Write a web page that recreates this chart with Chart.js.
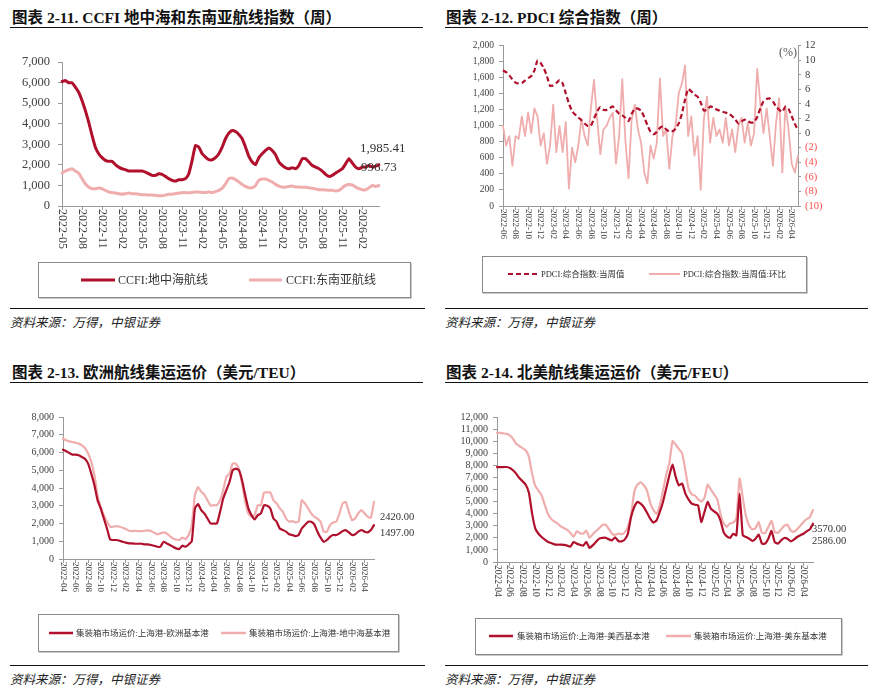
<!DOCTYPE html>
<html>
<head>
<meta charset="utf-8">
<script src="https://cdn.jsdelivr.net/npm/chart.js@4.4.0/dist/chart.umd.min.js"></script>
<style>
  body { margin: 0; background: #fff; }
  #page { position: relative; width: 870px; height: 689px; overflow: hidden; background: #fff; }
  .title { position: absolute; font-family: "Liberation Serif", "Noto Sans CJK SC", serif; font-weight: bold; font-size: 15.5px; color: #111; white-space: nowrap; }
  .rule { position: absolute; height: 0; border-top: 1.5px solid #111; }
  .src { position: absolute; font-family: "Noto Sans CJK SC", sans-serif; font-style: italic; font-size: 12.5px; color: #222; white-space: nowrap; }
  canvas { position: absolute; }
</style>
</head>
<body>
<div id="page">
  <div class="title" style="left:12px;top:5px">图表 2-11. CCFI 地中海和东南亚航线指数（周）</div>
  <div class="rule" style="left:10px;top:27px;width:413px"></div>
  <div class="title" style="left:446px;top:5px">图表 2-12. PDCI 综合指数（周）</div>
  <div class="rule" style="left:445px;top:27px;width:423px"></div>
  <canvas id="c1" width="430" height="265" style="left:0;top:40px"></canvas>
  <canvas id="c2" width="430" height="265" style="left:440px;top:35px"></canvas>
  <div class="rule" style="left:10px;top:308px;width:415px;border-top-width:1px"></div>
  <div class="rule" style="left:445px;top:308px;width:423px;border-top-width:1px"></div>
  <div class="src" style="left:10px;top:312px">资料来源：万得，中银证券</div>
  <div class="src" style="left:445px;top:312px">资料来源：万得，中银证券</div>

  <div class="title" style="left:12px;top:360px">图表 2-13. 欧洲航线集运运价（美元/TEU）</div>
  <div class="rule" style="left:10px;top:382px;width:413px"></div>
  <div class="title" style="left:446px;top:360px">图表 2-14. 北美航线集运运价（美元/FEU）</div>
  <div class="rule" style="left:445px;top:382px;width:423px"></div>
  <canvas id="c3" width="430" height="265" style="left:0;top:395px"></canvas>
  <canvas id="c4" width="430" height="265" style="left:440px;top:395px"></canvas>
  <div class="rule" style="left:10px;top:665px;width:415px;border-top-width:1px"></div>
  <div class="rule" style="left:445px;top:665px;width:423px;border-top-width:1px"></div>
  <div class="src" style="left:10px;top:669px">资料来源：万得，中银证券</div>
  <div class="src" style="left:445px;top:669px">资料来源：万得，中银证券</div>
</div>
<script>
// ---- data (half-monthly readings) ----
const ccfiMed = [6050,6100,5990,5990,5780,5530,5130,4640,4080,3430,2860,2540,2350,2220,2170,2170,2010,1890,1810,1760,
  1700,1700,1700,1700,1700,1650,1570,1490,1490,1570,1540,1440,1330,1250,1210,1280,1280,1330,1570,2220,
  2940,2860,2540,2380,2250,2250,2350,2540,2860,3270,3540,3670,3620,3480,3270,2860,2410,2140,2010,2350,
  2540,2700,2820,2700,2490,2140,1970,1860,1810,1860,1810,1970,2300,2300,2140,1970,1890,1810,1700,1540,
  1440,1490,1600,1700,1810,2050,2300,2090,1890,1810,1890,1890,1970,1890,1940,1985.41];
const ccfiSea = [1600,1700,1760,1810,1700,1600,1330,1080,920,840,840,870,840,760,680,650,630,600,570,600,
  630,600,600,570,550,550,530,530,520,500,500,530,570,570,600,630,650,650,650,660,
  680,680,660,660,680,660,700,760,870,1080,1330,1360,1280,1170,1050,950,890,890,1000,1250,
  1310,1310,1250,1170,1050,970,920,920,950,970,920,920,910,910,890,860,830,790,790,780,
  760,760,730,760,890,1000,1050,1020,920,840,790,790,890,1000,950,996.73];

const pdciIndex = [1693,1670,1630,1580,1540,1529,1535,1565,1595,1620,1690,1816,1785,1720,1620,1500,1505,1535,1570,1530,
  1406,1280,1185,1140,1105,1070,1030,1000,1000,1090,1180,1235,1200,1200,1220,1242,1195,1150,1130,1100,
  1060,1150,1215,1215,1190,1110,1010,925,895,925,975,995,955,928,932,965,1030,1150,1330,1460,
  1430,1390,1365,1290,1190,1200,1242,1230,1205,1190,1175,1165,1150,1120,1080,1030,1055,1078,1060,1040,
  1045,1110,1220,1305,1335,1340,1305,1240,1200,1175,1240,1210,1120,1025,945];
const pdciWow = [1.0,-1.7,-0.4,-4.5,-0.4,-0.8,2.3,-0.4,2.8,0.0,3.4,2.3,-1.7,0.0,-4.2,-1.7,3.9,-2.6,1.0,-2.6,
  1.5,-7.6,-2.0,-4.0,-1.7,2.0,-0.4,-1.7,3.4,7.3,1.9,-2.9,0.5,1.0,2.1,2.8,-4.2,-0.4,7.4,-1.0,
  -6.2,1.9,3.9,0.5,-1.3,-5.4,-6.9,-1.7,-3.5,-1.3,7.5,-0.4,0.5,-4.9,-0.4,1.0,5.5,6.8,9.3,-0.4,
  2.3,-3.1,-0.4,-7.8,1.9,5.0,-1.3,2.1,-0.4,0.5,-1.3,2.1,-1.7,0.5,-2.6,1.0,2.1,-1.3,1.4,-1.7,
  0.0,8.8,4.1,0.0,3.4,-0.4,-4.5,1.4,4.8,-5.4,3.7,0.5,-4.2,-5.4,-3.1];

const euroRate = [6160,6070,5970,5880,5880,5840,5750,5650,5370,4810,4160,3310,2850,2280,1720,1100,1070,1070,1030,970,
  920,880,880,860,860,860,820,820,790,750,690,690,970,880,790,690,600,560,750,690,
  820,1010,2850,3090,2750,2570,2280,2000,2000,2000,2660,3410,3880,4340,5000,5090,5000,4440,3600,2850,
  2470,2230,2470,2570,3030,3000,2850,2280,2100,1720,1630,1540,1390,1350,1290,1350,1720,1910,2100,2100,
  1950,1540,1200,970,1070,1250,1350,1350,1440,1570,1630,1500,1350,1390,1540,1630,1540,1500,1630,1910];
const medRate = [6780,6690,6630,6590,6550,6500,6400,6250,5940,5470,4720,3600,2940,2470,2100,1820,1820,1850,1820,1760,
  1690,1590,1570,1590,1570,1570,1590,1610,1570,1480,1390,1440,1500,1440,1290,1160,1100,1070,1200,1120,
  1350,1910,3600,4060,3780,3630,3310,3000,3030,3030,3310,3880,4630,4810,5370,5370,5090,4250,3220,2570,
  2380,2470,3030,3030,3750,3750,3750,3310,3130,2850,2660,2280,2100,2130,2060,2100,3310,3130,2850,2570,
  2380,2280,2100,1540,1540,1910,2060,2100,2570,3130,3220,2660,2190,2280,2570,2750,2570,2380,2320,3220];

const usWestRate = [7860,7860,7860,7860,7780,7590,7310,6950,6680,6400,5740,4000,2760,2340,2070,1850,1660,1570,1460,1430,
  1430,1410,1350,1270,1650,1520,1430,1350,1660,1160,1380,1660,1930,1990,2010,1880,1790,2050,1740,1710,
  1850,2340,3720,4550,4970,4830,4550,4080,3590,3260,3450,4140,4970,6070,7170,8060,7030,6340,6500,5660,
  5190,4830,4740,4690,3310,4140,4970,4410,4190,4000,3450,2480,2120,1990,2340,2210,5660,2210,2070,1930,
  1740,1930,2260,1520,1520,1930,2570,1660,1520,1790,1990,1930,1710,1850,2070,2210,2340,2540,2700,3170];
const usEastRate = [10700,10680,10640,10600,10480,10210,9790,9600,9420,9250,8700,7300,6300,5900,5500,4700,3950,3550,3350,3170,
  2950,2800,2650,2400,2100,2550,2380,2350,2600,2000,2300,2550,2800,3050,3100,2750,2350,2250,2350,2300,
  2450,2900,3900,5800,6400,6600,6350,5900,4900,4300,4000,4700,5900,7200,8200,10000,9700,9350,9000,7600,
  6100,5600,5500,5200,5000,5300,6400,6000,5600,5200,4000,3200,2900,3200,3250,3600,6900,5300,3800,3000,
  2700,2800,3300,2400,2400,2900,3400,2500,2400,2700,3000,3100,2600,2500,2700,3000,3300,3550,3700,4300];

const ccfiLabels = ['CCFI:地中海航线', 'CCFI:东南亚航线'];
const pdciLabels = ['PDCI:综合指数:当周值', 'PDCI:综合指数:当周值:环比'];
const euroLabels = ['集装箱市场运价:上海港-欧洲基本港', '集装箱市场运价:上海港-地中海基本港'];
const usLabels = ['集装箱市场运价:上海港-美西基本港', '集装箱市场运价:上海港-美东基本港'];
const ccfiEnd = ['1,985.41', '996.73'];
const euroEnd = ['1497.00', '2420.00'];
const usEnd = ['2586.00', '3570.00'];

// half-month category labels, YYYY-MM
function halfMonths(y, m, n) {
  const out = [];
  for (let i = 0; i < n; i++) {
    const k = m - 1 + Math.floor(i / 2);
    out.push((y + Math.floor(k / 12)) + '-' + String(k % 12 + 1).padStart(2, '0'));
  }
  return out;
}

const RED = '#B0102B';
const PINK = '#F0ADAD';
const SERIF = '"Liberation Serif", "Noto Sans CJK SC", serif';
const AXIS = '#9a9a9a';

// vertical x labels, reading top to bottom
const vTicks = {
  id: 'vTicks',
  afterDraw(chart, args, o) {
    const sc = chart.scales.x, ctx = chart.ctx;
    ctx.save();
    ctx.font = o.font; ctx.fillStyle = '#404040';
    ctx.textAlign = 'left'; ctx.textBaseline = 'middle';
    chart.data.labels.forEach((lab, i) => {
      if (i % o.step) return;
      ctx.save();
      ctx.translate(sc.getPixelForValue(i), sc.top + o.gap);
      ctx.rotate(Math.PI / 2);
      ctx.fillText(lab, 0, 0);
      ctx.restore();
    });
    ctx.restore();
  }
};

// framed legend
const boxLegend = {
  id: 'boxLegend',
  afterDraw(chart, args, o) {
    const ctx = chart.ctx, b = o.box;
    ctx.save();
    ctx.strokeStyle = '#c8c8c8'; ctx.lineWidth = 1;
    ctx.beginPath();
    ctx.moveTo(b[0] + b[2] + 1.5, b[1] + 1); ctx.lineTo(b[0] + b[2] + 1.5, b[1] + b[3] + 1.5); ctx.lineTo(b[0] + 1, b[1] + b[3] + 1.5);
    ctx.stroke();
    ctx.strokeStyle = '#8a8a8a';
    ctx.strokeRect(b[0] + 0.5, b[1] + 0.5, b[2], b[3]);
    ctx.font = o.font; ctx.fillStyle = '#333'; ctx.textBaseline = 'middle'; ctx.textAlign = 'left';
    chart.data.datasets.forEach((ds, i) => {
      const it = o.items[i];
      ctx.beginPath();
      ctx.strokeStyle = ds.borderColor; ctx.lineWidth = o.lineWidth;
      ctx.setLineDash(ds.borderDash || []);
      ctx.moveTo(it[0], o.y); ctx.lineTo(it[1], o.y); ctx.stroke();
      ctx.setLineDash([]);
      ctx.fillText(ds.label, it[2], o.y + 0.5);
    });
    ctx.restore();
  }
};

// value text next to the last point
const endLabels = {
  id: 'endLabels',
  afterDatasetsDraw(chart, args, o) {
    if (!o.items) return;
    const ctx = chart.ctx;
    ctx.save();
    ctx.font = o.font; ctx.fillStyle = '#333'; ctx.textBaseline = 'middle'; ctx.textAlign = 'left';
    o.items.forEach(it => {
      const pts = chart.getDatasetMeta(it[0]).data;
      const p = pts[pts.length - 1];
      ctx.fillText(it[1], p.x + it[2], p.y + it[3]);
    });
    ctx.restore();
  }
};

// small text inside the plot (unit)
const unitText = {
  id: 'unitText',
  afterDraw(chart, args, o) {
    if (!o.text) return;
    const ctx = chart.ctx, a = chart.chartArea;
    ctx.save();
    ctx.font = o.font; ctx.fillStyle = '#555'; ctx.textAlign = 'right'; ctx.textBaseline = 'middle';
    ctx.fillText(o.text, a.right - 1, a.top + 7);
    ctx.restore();
  }
};

Chart.register(vTicks, boxLegend, endLabels, unitText);

function lineSet(label, data, color, width, extra) {
  return Object.assign({ label: label, data: data, borderColor: color, backgroundColor: color,
    borderWidth: width, pointRadius: 0, tension: 0.15, fill: false, borderCapStyle: 'round', borderJoinStyle: 'round' }, extra || {});
}

function xAxis(step, height) {
  return {
    type: 'category',
    offset: false,
    afterFit: s => { s.height = height; },
    ticks: { display: false },
    grid: { drawOnChartArea: false, tickLength: 4, color: c => (c.index % step === 0 ? AXIS : 'rgba(0,0,0,0)') },
    border: { display: true, color: AXIS }
  };
}

function yAxis(min, max, stepSize, width, fontSize, pad) {
  return {
    min: min, max: max,
    afterFit: s => { s.width = width; },
    ticks: { stepSize: stepSize, autoSkip: false, color: '#404040', padding: pad, font: { family: SERIF, size: fontSize },
      callback: v => v.toLocaleString('en-US') },
    grid: { drawOnChartArea: false, tickLength: 4, color: AXIS },
    border: { display: true, color: AXIS }
  };
}

function baseOptions(padding) {
  return {
    responsive: false,
    animation: false,
    devicePixelRatio: 1,
    layout: { padding: padding },
    plugins: { legend: { display: false }, tooltip: { enabled: false } }
  };
}

// ---- chart 2-11 ----
const o1 = baseOptions({ left: 0, right: 51, top: 22, bottom: 59 });
o1.scales = { x: xAxis(6, 40), y: yAxis(0, 7000, 1000, 62, 12.5, 8) };
o1.plugins.vTicks = { step: 6, gap: 3, font: '12px ' + SERIF };
o1.plugins.boxLegend = { box: [38, 222, 372, 35], y: 240, lineWidth: 3, font: '12px ' + SERIF,
  items: [[81, 115, 118], [249, 282, 286]] };
o1.plugins.endLabels = { font: '13px ' + SERIF, items: [[0, ccfiEnd[0], -19, -17], [1, ccfiEnd[1], -18, -18]] };
new Chart(document.getElementById('c1'), {
  type: 'line',
  data: { labels: halfMonths(2022, 5, ccfiMed.length),
    datasets: [lineSet(ccfiLabels[0], ccfiMed, RED, 3), lineSet(ccfiLabels[1], ccfiSea, PINK, 3)] },
  options: o1
});

// ---- chart 2-12 ----
const o2 = baseOptions({ left: 1, right: 42, top: 8, bottom: 54 });
const y2 = yAxis(0, 2000, 200, 62, 9.5, 5);
const y2r = {
  position: 'right', min: -10, max: 12,
  afterFit: s => { s.width = 30; },
  ticks: { stepSize: 2, autoSkip: false, padding: 4, font: { family: SERIF, size: 10.5 },
    color: c => (c.tick && c.tick.value < 0 ? '#FF4A4A' : '#404040'),
    callback: v => (v < 0 ? '(' + (-v) + ')' : String(v)) },
  grid: { drawOnChartArea: false, tickLength: 3, color: AXIS },
  border: { display: true, color: AXIS }
};
o2.scales = { x: xAxis(4, 40), y: y2, y1: y2r };
o2.plugins.vTicks = { step: 4, gap: 3, font: '9px ' + SERIF };
o2.plugins.boxLegend = { box: [42, 221, 324, 36], y: 239, lineWidth: 2, font: '8.5px ' + SERIF,
  items: [[68, 97, 101], [209, 240, 243]] };
o2.plugins.unitText = { text: '(%)', font: '12px ' + SERIF };
new Chart(document.getElementById('c2'), {
  type: 'line',
  data: { labels: halfMonths(2022, 6, pdciIndex.length),
    datasets: [lineSet(pdciLabels[0], pdciIndex, RED, 2.2, { borderDash: [5, 3], yAxisID: 'y', borderCapStyle: 'butt' }),
               lineSet(pdciLabels[1], pdciWow, PINK, 1.8, { yAxisID: 'y1', tension: 0 })] },
  options: o2
});

// ---- chart 2-13 ----
const o3 = baseOptions({ left: 0, right: 56, top: 22, bottom: 61 });
o3.scales = { x: xAxis(4, 40), y: yAxis(0, 8000, 1000, 63, 10, 5) };
o3.plugins.vTicks = { step: 4, gap: 3, font: '9px ' + SERIF };
o3.plugins.boxLegend = { box: [38, 219, 360, 37], y: 238, lineWidth: 2.5, font: '8.5px ' + SERIF,
  items: [[49, 73, 76], [221, 246, 249]] };
o3.plugins.endLabels = { font: '10.5px ' + SERIF, items: [[0, euroEnd[0], 6, 8], [1, euroEnd[1], 6, 15]] };
new Chart(document.getElementById('c3'), {
  type: 'line',
  data: { labels: halfMonths(2022, 4, euroRate.length),
    datasets: [lineSet(euroLabels[0], euroRate, RED, 2.2), lineSet(euroLabels[1], medRate, PINK, 2.2)] },
  options: o3
});

// ---- chart 2-14 ----
const o4 = baseOptions({ left: 0, right: 57, top: 22, bottom: 58 });
o4.scales = { x: xAxis(4, 40), y: yAxis(0, 12000, 1000, 57, 10, 5) };
o4.plugins.vTicks = { step: 4, gap: 3, font: '9.5px ' + SERIF };
o4.plugins.boxLegend = { box: [35, 223, 366, 36], y: 241, lineWidth: 2.5, font: '8.5px ' + SERIF,
  items: [[49, 73, 77], [226, 251, 254]] };
o4.plugins.endLabels = { font: '10.5px ' + SERIF, items: [[0, usEnd[0], -1, 18], [1, usEnd[1], -1, 19]] };
new Chart(document.getElementById('c4'), {
  type: 'line',
  data: { labels: halfMonths(2022, 4, usWestRate.length),
    datasets: [lineSet(usLabels[0], usWestRate, RED, 2.2), lineSet(usLabels[1], usEastRate, PINK, 2.2)] },
  options: o4
});
</script>
</body>
</html>
